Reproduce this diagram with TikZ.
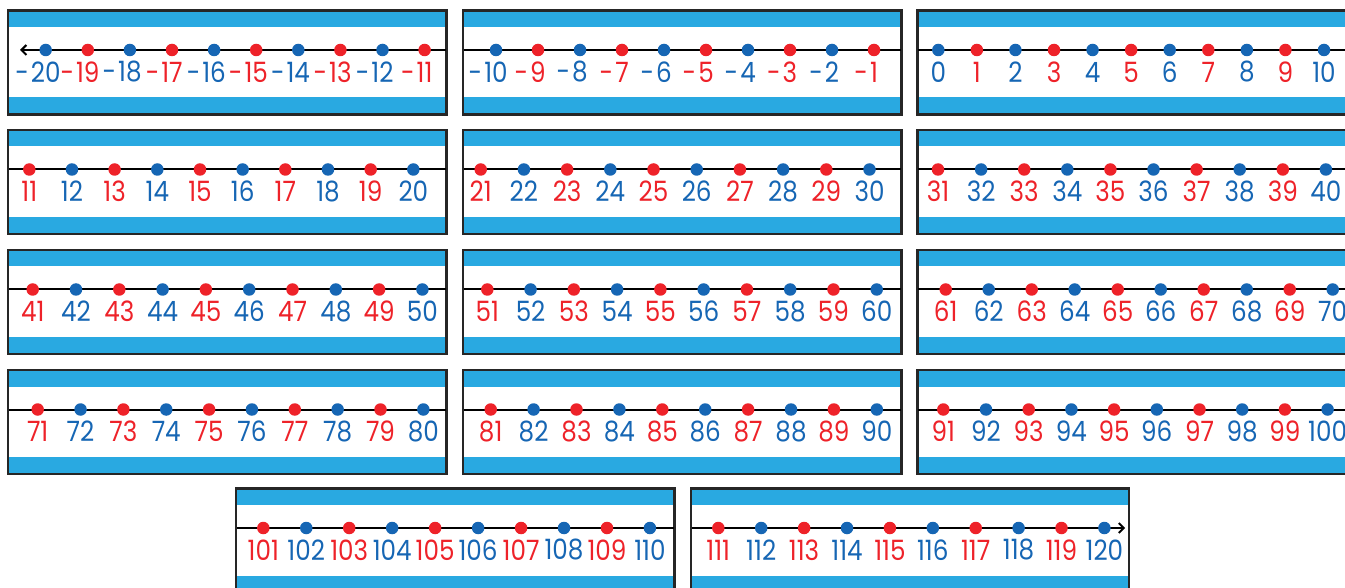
\documentclass[tikz,border=0pt]{standalone}
\usepackage{fontspec}
\setmainfont{Poppins}[Numbers=Proportional]
\newfontfamily\numfont{Poppins}[Numbers=Proportional, FakeStretch=0.88]
\usetikzlibrary{arrows.meta}
\definecolor{band}{HTML}{29A9E1}
\definecolor{nblue}{HTML}{1666B4}
\definecolor{nred}{HTML}{EE2229}
\definecolor{framec}{HTML}{262626}
\tikzset{
  x=1pt, y=-1pt,
  cardframe/.style={draw=framec, line width=2.4pt},
  numline/.style={draw=black, line width=2pt},
  numdot/.style={circle, inner sep=0pt, minimum size=12.5pt},
  numtext/.style={inner sep=0pt, anchor=center, font=\numfont\fontsize{28pt}{28pt}\selectfont},
  arrowwest/.style={{Straight Barb[length=5pt,width=10pt]}-, shorten <=11pt},
  arroweast/.style={-{Straight Barb[length=5pt,width=10pt]}, shorten >=3pt},
  noarrow/.style={}
}
% #1 name, #2 left, #3 top, #4 first number, #5 last index, #6 first dot x, #7 step, #8 line style
\newcommand\numcard[8]{%
  \fill[white] (#2,#3) rectangle ++(438.5,104);
  \fill[band] (#2,#3) rectangle ++(438.5,16.5);
  \fill[band] (#2,#3+87) rectangle ++(438.5,17);
  \draw[cardframe] (#2,#3) rectangle ++(438.5,104);
  \coordinate (#1-w) at (#2+1,#3+39.5);
  \coordinate (#1-e) at (#2+437.5,#3+39.5);
  \draw[numline,#8] (#1-w) -- (#1-e);
  \foreach \i in {0,...,#5} {%
    \pgfmathtruncatemacro\nval{#4+\i}%
    \pgfmathsetmacro\xpos{#6+\i*#7}%
    \ifodd\nval \def\dc{nred}\else\def\dc{nblue}\fi
    \pgfmathtruncatemacro\aval{abs(\nval)}%
    \ifnum\nval<0 \def\ntext{\llap{-\kern2pt}\aval}\else\def\ntext{\aval}\fi
    \node[numdot, fill=\dc] (#1-d\i) at (\xpos,#3+39.5) {};
    \node[numtext, text=\dc] (#1-n\i) at (\xpos,#3+61.5) {\ntext};
  }%
}
\begin{document}
\begin{tikzpicture}
\useasboundingbox (0,0) rectangle (1345,588);
\clip (0,0) rectangle (1345,588);
\fill[white] (0,0) rectangle (1345,588);
% row 1
\numcard{c1}{8}{10.5}{-20}{9}{45.7}{42.1}{arrowwest}
\numcard{c2}{463}{10.5}{-10}{9}{496}{42.0}{noarrow}
\numcard{c3}{917.3}{10.5}{0}{10}{938.3}{38.57}{noarrow}
% row 2
\numcard{c4}{8}{130}{11}{9}{29.3}{42.67}{noarrow}
\numcard{c5}{463}{130}{21}{9}{480.7}{43.2}{noarrow}
\numcard{c6}{917.3}{130}{31}{9}{938}{43.1}{noarrow}
% row 3
\numcard{c7}{8}{250}{41}{9}{32.7}{43.3}{noarrow}
\numcard{c8}{463}{250}{51}{9}{487.3}{43.27}{noarrow}
\numcard{c9}{917.3}{250}{61}{9}{945.7}{43.0}{noarrow}
% row 4
\numcard{c10}{8}{370}{71}{9}{37.7}{42.85}{noarrow}
\numcard{c11}{463}{370}{81}{9}{490.7}{42.9}{noarrow}
\numcard{c12}{917.3}{370}{91}{9}{943.3}{42.7}{noarrow}
% row 5
\numcard{c13}{236}{488.5}{101}{9}{263.3}{42.96}{noarrow}
\numcard{c14}{690.7}{488.5}{111}{9}{718.3}{42.9}{arroweast}
\end{tikzpicture}
\end{document}
